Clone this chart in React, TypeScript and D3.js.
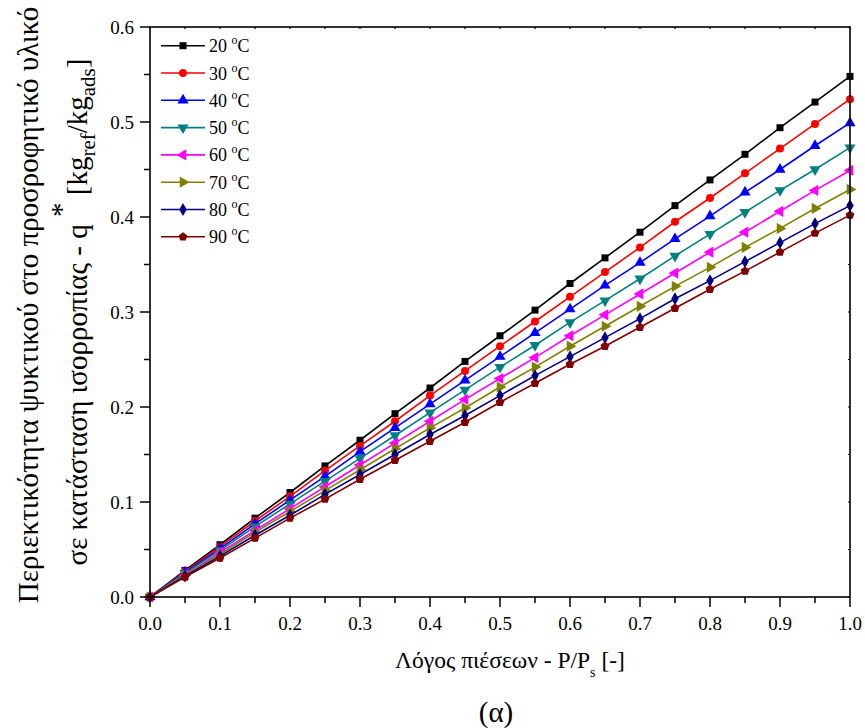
import React from "react";
import * as d3 from "d3";

const xValues = [0, 0.05, 0.1, 0.15, 0.2, 0.25, 0.3, 0.35, 0.4, 0.45, 0.5, 0.55, 0.6, 0.65, 0.7, 0.75, 0.8, 0.85, 0.9, 0.95, 1.0];
const s20 = [0, 0.028, 0.055, 0.083, 0.110, 0.138, 0.165, 0.193, 0.220, 0.248, 0.275, 0.302, 0.330, 0.357, 0.384, 0.412, 0.439, 0.466, 0.494, 0.521, 0.548];
const s30 = [0, 0.027, 0.053, 0.080, 0.106, 0.133, 0.159, 0.185, 0.212, 0.238, 0.264, 0.290, 0.316, 0.342, 0.368, 0.395, 0.420, 0.446, 0.472, 0.498, 0.524];
const s40 = [0, 0.026, 0.051, 0.077, 0.102, 0.127, 0.153, 0.178, 0.203, 0.228, 0.253, 0.278, 0.303, 0.328, 0.352, 0.377, 0.401, 0.426, 0.450, 0.475, 0.499];
const s50 = [0, 0.025, 0.049, 0.074, 0.098, 0.122, 0.146, 0.170, 0.194, 0.218, 0.242, 0.265, 0.289, 0.312, 0.335, 0.359, 0.382, 0.405, 0.428, 0.450, 0.473];
const s60 = [0, 0.023, 0.047, 0.070, 0.093, 0.116, 0.139, 0.162, 0.185, 0.208, 0.230, 0.252, 0.275, 0.297, 0.319, 0.341, 0.363, 0.384, 0.406, 0.428, 0.449];
const s70 = [0, 0.023, 0.045, 0.068, 0.090, 0.112, 0.134, 0.156, 0.178, 0.199, 0.221, 0.242, 0.264, 0.285, 0.306, 0.327, 0.347, 0.368, 0.388, 0.409, 0.429];
const s80 = [0, 0.022, 0.043, 0.065, 0.086, 0.108, 0.129, 0.150, 0.171, 0.191, 0.212, 0.233, 0.253, 0.273, 0.293, 0.314, 0.333, 0.353, 0.373, 0.393, 0.412];
const s90 = [0, 0.021, 0.041, 0.062, 0.083, 0.103, 0.124, 0.144, 0.164, 0.184, 0.205, 0.225, 0.245, 0.264, 0.284, 0.304, 0.324, 0.343, 0.363, 0.383, 0.402];

const seriesLabels = ["20", "30", "40", "50", "60", "70", "80", "90"];
const seriesValues = [s20, s30, s40, s50, s60, s70, s80, s90];
const seriesColors = ["#000000", "#ff0000", "#0000ff", "#008080", "#ff00ff", "#808000", "#000080", "#800000"];
const seriesMarkers = ["square", "circle", "up", "down", "left", "right", "diamond", "pentagon"];

const xTicks = [0, 0.1, 0.2, 0.3, 0.4, 0.5, 0.6, 0.7, 0.8, 0.9, 1.0];
const yTicks = [0, 0.1, 0.2, 0.3, 0.4, 0.5, 0.6];

const W = 865, H = 728;
const L = 150, R = 850, T = 27, B = 597;
const FONT = "Liberation Serif, DejaVu Serif, serif";

const x = d3.scaleLinear().domain([0, 1]).range([L, R]);
const y = d3.scaleLinear().domain([0, 0.6]).range([B, T]);

function markerPath(kind: string): { d: string; rot: number } {
  switch (kind) {
    case "square":
      return { d: d3.symbol().type(d3.symbolSquare).size(49)()!, rot: 0 };
    case "circle":
      return { d: d3.symbol().type(d3.symbolCircle).size(50)()!, rot: 0 };
    case "up":
      return { d: d3.symbol().type(d3.symbolTriangle).size(54)()!, rot: 0 };
    case "down":
      return { d: d3.symbol().type(d3.symbolTriangle).size(54)()!, rot: 180 };
    case "left":
      return { d: d3.symbol().type(d3.symbolTriangle).size(54)()!, rot: -90 };
    case "right":
      return { d: d3.symbol().type(d3.symbolTriangle).size(54)()!, rot: 90 };
    case "diamond":
      return { d: d3.symbol().type(d3.symbolDiamond).size(48)()!, rot: 0 };
    default: {
      const r = 4.6;
      const pts = d3.range(5).map((i) => {
        const a = -Math.PI / 2 + (i * 2 * Math.PI) / 5;
        return [r * Math.cos(a), r * Math.sin(a)];
      });
      return { d: "M" + pts.map((p) => p[0].toFixed(2) + "," + p[1].toFixed(2)).join("L") + "Z", rot: 0 };
    }
  }
}

export default function App() {
  const line = d3
    .line<number>()
    .x((_, i) => x(xValues[i]))
    .y((v) => y(v));

  const xMinor = d3.range(0, 1.0001, 0.05);
  const yMinor = d3.range(0, 0.6001, 0.05);

  return (
    <svg width={W} height={H} style={{ display: "block", position: "absolute", left: 0, top: 0, fontFamily: FONT }}>
      <rect x={0} y={0} width={W} height={H} fill="#fff" />
      {/* series */}
      {seriesValues.map((vals, si) => {
        const m = markerPath(seriesMarkers[si]);
        return (
          <g key={si}>
            <path d={line(vals)!} fill="none" stroke={seriesColors[si]} strokeWidth={1.6} />
            {vals.map((v, i) => (
              <path
                key={i}
                d={m.d}
                transform={`translate(${x(xValues[i])},${y(v)}) rotate(${m.rot})`}
                fill={seriesColors[si]}
              />
            ))}
          </g>
        );
      })}
      {/* frame */}
      <rect x={L} y={T} width={R - L} height={B - T} fill="none" stroke="#000" strokeWidth={1.6} />
      {/* x ticks */}
      {xMinor.map((t, i) => {
        const major = i % 2 === 0;
        return (
          <g key={"xt" + i}>
            <line x1={x(t)} x2={x(t)} y1={B} y2={B + (major ? 10 : 6)} stroke="#000" strokeWidth={1.5} />
            <line x1={x(t)} x2={x(t)} y1={T} y2={T + 2} stroke="#000" strokeWidth={1.2} />
          </g>
        );
      })}
      {xTicks.map((t) => (
        <text key={"xl" + t} x={x(t)} y={B + 33} textAnchor="middle" fontSize={19}>
          {t.toFixed(1)}
        </text>
      ))}
      {/* y ticks */}
      {yMinor.map((t, i) => {
        const major = i % 2 === 0;
        return (
          <g key={"yt" + i}>
            <line x1={L - (major ? 10 : 6)} x2={L} y1={y(t)} y2={y(t)} stroke="#000" strokeWidth={1.5} />
            <line x1={R - 2} x2={R} y1={y(t)} y2={y(t)} stroke="#000" strokeWidth={1.2} />
          </g>
        );
      })}
      {yTicks.map((t) => (
        <text key={"yl" + t} x={L - 16} y={y(t) + 6.5} textAnchor="end" fontSize={19}>
          {t.toFixed(1)}
        </text>
      ))}
      {/* legend */}
      {seriesLabels.map((lab, i) => {
        const cy = 45.7 + i * 27.3;
        const m = markerPath(seriesMarkers[i]);
        return (
          <g key={"lg" + i}>
            <line x1={161} x2={205} y1={cy} y2={cy} stroke={seriesColors[i]} strokeWidth={1.6} />
            <path d={m.d} transform={`translate(183,${cy}) rotate(${m.rot})`} fill={seriesColors[i]} />
            <text x={209} y={cy + 6.5} fontSize={18}>
              {lab + " "}
              <tspan fontSize={12} dy={-8}>o</tspan>
              <tspan dy={8}>C</tspan>
            </text>
          </g>
        );
      })}
      {/* x title */}
      <text x={510} y={668} textAnchor="middle" fontSize={23.5}>
        Λόγος πιέσεων - P/P
        <tspan fontSize={14} dy={9}>s</tspan>
        <tspan dy={-9}> [-]</tspan>
      </text>
      <text x={496} y={722} textAnchor="middle" fontSize={29}>
        (α)
      </text>
      {/* y title */}
      <text transform="translate(38,305) rotate(-90)" textAnchor="middle" fontSize={29}>
        Περιεκτικότητα ψυκτικού στο προσροφητικό υλικό
      </text>
      <text transform="translate(87,312) rotate(-90)" textAnchor="middle" fontSize={29}>
        σε κατάσταση ισορροπίας - q
        <tspan dy={-16}> *</tspan>
        <tspan dy={16}>  [kg</tspan>
        <tspan fontSize={21} dy={8}>ref</tspan>
        <tspan dy={-8}>/kg</tspan>
        <tspan fontSize={21} dy={8}>ads</tspan>
        <tspan dy={-8}>]</tspan>
      </text>
    </svg>
  );
}
